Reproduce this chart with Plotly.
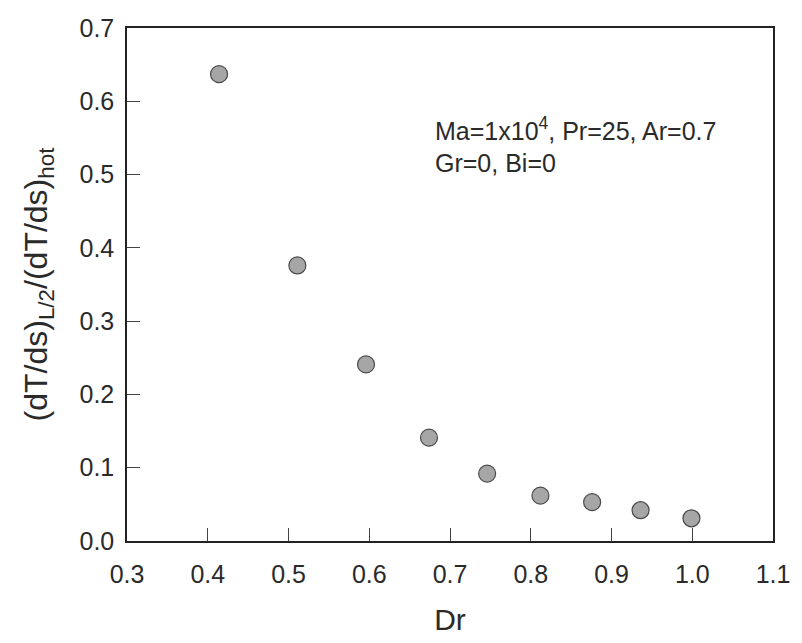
import plotly.graph_objects as go

dr = [0.414, 0.511, 0.596, 0.674, 0.746, 0.812, 0.876, 0.936, 0.999]
ratio = [0.637, 0.376, 0.241, 0.141, 0.092, 0.062, 0.053, 0.042, 0.031]
x_ticks = [0.3, 0.4, 0.5, 0.6, 0.7, 0.8, 0.9, 1.0, 1.1]
y_ticks = [0.0, 0.1, 0.2, 0.3, 0.4, 0.5, 0.6, 0.7]

FONT = "Liberation Sans, Arial, sans-serif"
TXT = "#2a2a2a"

fig = go.Figure()
fig.add_trace(go.Scatter(
    x=dr, y=ratio, mode="markers",
    marker=dict(size=17, color="#a6a6a6", line=dict(color="#4a4a4a", width=1.2)),
    showlegend=False, cliponaxis=False,
))

fig.add_annotation(
    x=0.6785, y=0.541, xref="x", yref="y", xanchor="left", yanchor="middle",
    text="Ma=1x10<sup>4</sup>, Pr=25, Ar=0.7<br>Gr=0, Bi=0",
    showarrow=False, align="left",
    font=dict(family=FONT, size=25, color=TXT),
)

axis_common = dict(
    showgrid=False, zeroline=False, showline=True, linecolor="#222222", linewidth=1.5,
    mirror=True, ticks="inside", ticklen=13, tickwidth=1, tickcolor="#444444",
    tickfont=dict(family=FONT, size=25, color=TXT),
)

fig.update_xaxes(range=[0.3, 1.1], tickvals=x_ticks, ticktext=[f"{v:.1f}" for v in x_ticks],
                 ticklabelstandoff=10,
                 title=dict(text="Dr", font=dict(family=FONT, size=30, color=TXT), standoff=22),
                 **axis_common)
fig.update_yaxes(range=[0.0, 0.7], tickvals=y_ticks, ticktext=[f"{v:.1f}" for v in y_ticks],
                 ticklabelstandoff=6,
                 title=dict(text="(dT/ds)<sub>L/2</sub>/(dT/ds)<sub>hot</sub>",
                            font=dict(family=FONT, size=32, color=TXT), standoff=22),
                 **axis_common)

fig.update_layout(
    width=802, height=643,
    margin=dict(l=127, r=20, t=28, b=95),
    paper_bgcolor="white", plot_bgcolor="white",
)

fig.write_html("out.html")
